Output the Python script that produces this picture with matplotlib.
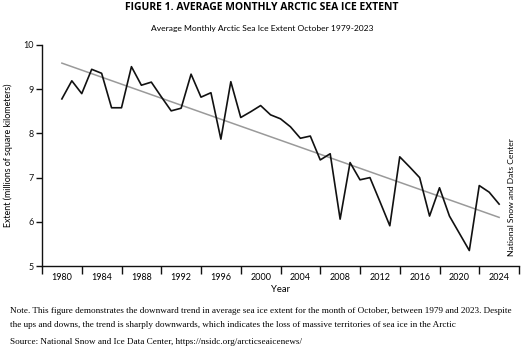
import matplotlib
matplotlib.use("Agg")
import matplotlib.pyplot as plt
from matplotlib.ticker import FixedLocator, NullFormatter

# October average Arctic sea ice extent (millions of km²)
years = list(range(1979, 2024))
extent = [8.78, 9.19, 8.90, 9.45, 9.36, 8.58, 8.58, 9.51, 9.09, 9.16,
          8.83, 8.51, 8.57, 9.34, 8.82, 8.92, 7.87, 9.17, 8.36, 8.49,
          8.63, 8.42, 8.33, 8.15, 7.89, 7.94, 7.40, 7.54, 6.06, 7.34,
          6.95, 7.00, 6.46, 5.91, 7.47, 7.24, 7.00, 6.13, 6.77, 6.13,
          5.74, 5.35, 6.82, 6.67, 6.40]

# Linear trend endpoints
trend_years = [1979, 2023]
trend_values = [9.59, 6.10]

# Axis labelling
label_years = list(range(1979, 2024, 4))
tick_labels = ["1980", "1984", "1988", "1992", "1996", "2000",
               "2004", "2008", "2012", "2016", "2020", "2024"]
y_ticks = [5, 6, 7, 8, 9, 10]

sans = ["Lato", "DejaVu Sans"]
serif = ["Liberation Serif", "DejaVu Serif"]

fig = plt.figure(figsize=(5.24, 3.48), dpi=100)
ax = fig.add_axes([42 / 524, 1 - 266 / 348, (519 - 42) / 524, (266 - 45) / 348])

ax.plot(trend_years, trend_values, color="#9a9a9a", lw=1.1, zorder=2)
ax.plot(years, extent, color="#111111", lw=1.2, zorder=3)

ax.set_xlim(1977, 2025)
ax.set_ylim(5, 10)

for s in ("top", "right"):
    ax.spines[s].set_visible(False)
for s in ("left", "bottom"):
    ax.spines[s].set_linewidth(1.0)
    ax.spines[s].set_color("#111111")

ax.set_yticks(y_ticks)
ax.set_yticklabels([str(v) for v in y_ticks], fontfamily=sans, fontsize=6.5)
ax.tick_params(axis="y", length=4, width=1.0, pad=2, colors="#111111")

# Labels centred in each four-year band, tick marks on the band edges
ax.xaxis.set_major_locator(FixedLocator(label_years))
ax.set_xticklabels(tick_labels, fontfamily=sans, fontsize=6.5)
ax.tick_params(axis="x", which="major", length=0, pad=5)
ax.xaxis.set_minor_locator(FixedLocator(list(range(1977, 2026, 4))))
ax.xaxis.set_minor_formatter(NullFormatter())
ax.tick_params(axis="x", which="minor", length=6, width=1.0, color="#111111")

ax.set_xlabel("Year", fontfamily=sans, fontsize=6.8, labelpad=2)
ax.set_ylabel("Extent (millions of square kilometers)", fontfamily=sans, fontsize=6.4, labelpad=7)

ax.text(2024.2, 6.56, "National Snow and Dats Center", rotation=90, ha="center", va="center",
        fontfamily=sans, fontsize=6.1)

fig.text(0.5, 1 - 7 / 348, "FIGURE 1. AVERAGE MONTHLY ARCTIC SEA ICE EXTENT", ha="center", va="center",
         fontfamily=["Open Sans", "DejaVu Sans"], fontweight="bold", fontsize=7.5)
fig.text(0.5, 1 - 29 / 348, "Average Monthly Arctic Sea Ice Extent October 1979-2023", ha="center", va="center",
         fontfamily=sans, fontsize=6.1)

fig.text(10 / 524, 1 - 311 / 348,
         "Note. This figure demonstrates the downward trend in average sea ice extent for the month of October, "
         "between 1979 and 2023. Despite", ha="left", va="center", fontfamily=serif, fontsize=6.6)
fig.text(10 / 524, 1 - 325 / 348,
         "the ups and downs, the trend is sharply downwards, which indicates the loss of massive territories "
         "of sea ice in the Arctic", ha="left", va="center", fontfamily=serif, fontsize=6.6)
fig.text(10 / 524, 1 - 342 / 348,
         "Source: National Snow and Ice Data Center, https://nsidc.org/arcticseaicenews/",
         ha="left", va="center", fontfamily=serif, fontsize=6.6)

fig.savefig("out.png", dpi=100, facecolor="white")
